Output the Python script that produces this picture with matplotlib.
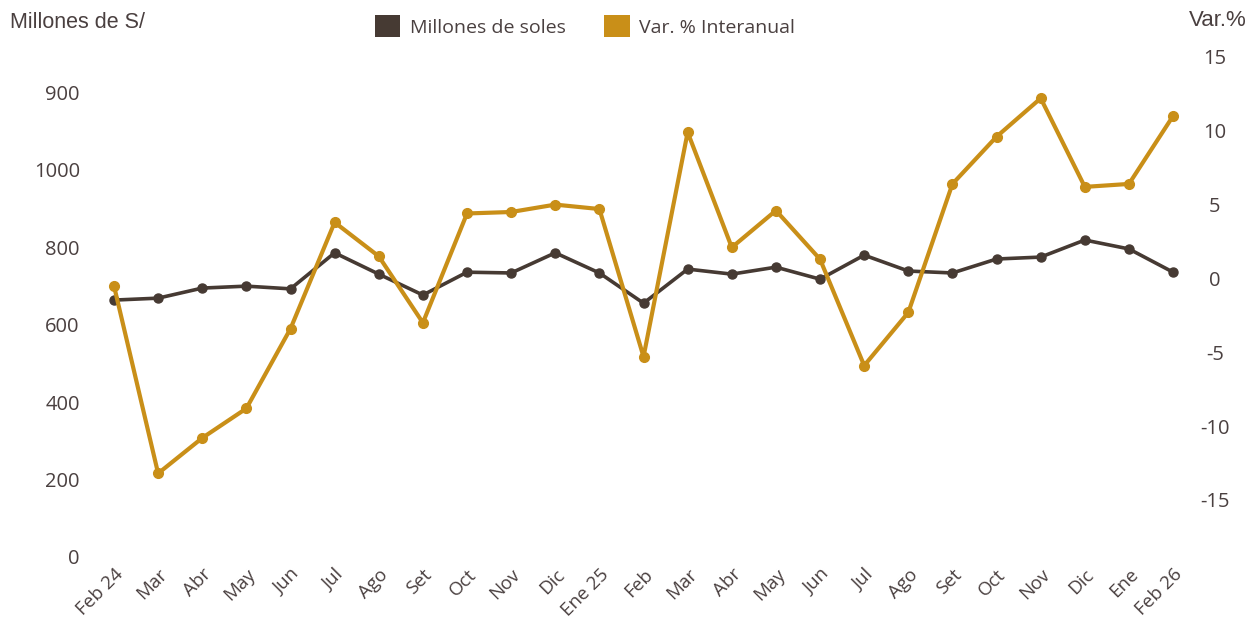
import matplotlib
matplotlib.use('Agg')
import matplotlib.pyplot as plt
from matplotlib.patches import Patch

months = ['Feb 24', 'Mar', 'Abr', 'May', 'Jun', 'Jul', 'Ago', 'Set', 'Oct', 'Nov', 'Dic', 'Ene 25',
          'Feb', 'Mar', 'Abr', 'May', 'Jun', 'Jul', 'Ago', 'Set', 'Oct', 'Nov', 'Dic', 'Ene', 'Feb 26']

# millones de soles (eje izquierdo)
millones = [663, 668, 694, 699, 692, 785, 730, 676, 735, 733, 785, 733,
            655, 743, 730, 748, 717, 779, 738, 733, 769, 774, 818, 795, 735]

# variacion % interanual (eje derecho)
var_pct = [-0.5, -13.2, -10.8, -8.8, -3.4, 3.8, 1.5, -3.0, 4.4, 4.5, 5.0, 4.7,
           -5.3, 9.9, 2.1, 4.6, 1.3, -5.9, -2.3, 6.4, 9.6, 12.2, 6.2, 6.4, 11.0]

left_ticks = [0, 200, 400, 600, 800, 1000, 1200]
left_labels = ['0', '200', '400', '600', '800', '1000', '900']  # as printed in the source chart
right_ticks = [-15, -10, -5, 0, 5, 10, 15]

c_black = '#463a33'
c_gold = '#c98f18'
c_text = '#4a4040'

W, H = 1257, 624
fig = plt.figure(figsize=(W / 100, H / 100), dpi=100)
ax = fig.add_axes([100 / W, (H - 557) / H, 1085 / W, (557 - 55) / H])
ax2 = ax.twinx()

x = list(range(len(months)))
ax.plot(x, millones, color=c_black, lw=2.6, marker='o', ms=6.5, zorder=3)
ax2.plot(x, var_pct, color=c_gold, lw=3, marker='o', ms=7, zorder=3)

ax.set_xlim(-0.317, 24.27)
ax.set_ylim(0, 1295.5)
ax2.set_ylim(-18.86, 15.13)

ax.set_yticks(left_ticks)
ax.set_yticklabels(left_labels)
ax2.set_yticks(right_ticks)
ax2.set_yticklabels([str(t) for t in right_ticks])

ax.set_xticks(x)
ax.set_xticklabels(months, rotation=45, ha='right', va='top', rotation_mode='anchor')

for a in (ax, ax2):
    for s in a.spines.values():
        s.set_visible(False)
    a.tick_params(length=0, colors=c_text)

for lab in ax.get_yticklabels():
    lab.set_fontfamily('Open Sans')
    lab.set_fontsize(14.5)
for lab in ax2.get_yticklabels():
    lab.set_fontfamily('Open Sans')
    lab.set_fontsize(14.5)
    lab.set_horizontalalignment('center')
for lab in ax.get_xticklabels():
    lab.set_fontfamily('Open Sans')
    lab.set_fontsize(13.5)

ax.tick_params(axis='y', pad=14.5)
ax2.tick_params(axis='y', pad=21.5)
ax.tick_params(axis='x', pad=6)

fig.text(10 / W, 1 - 23 / H, 'Millones de S/', family='Liberation Sans', fontsize=15.5,
         color=c_text, ha='left', va='center')
fig.text(1247 / W, 1 - 21 / H, 'Var.%', family='Liberation Sans', fontsize=16,
         color=c_text, ha='right', va='center')

handles = [Patch(facecolor=c_black), Patch(facecolor=c_gold)]
leg = fig.legend(handles, ['Millones de soles', 'Var. % Interanual'], loc='center',
                 bbox_to_anchor=(585 / W, 1 - 26 / H), ncol=2, frameon=False,
                 prop={'family': 'Open Sans', 'size': 14}, handlelength=1.3, handleheight=1.3,
                 handletextpad=0.5, columnspacing=2.0)
for t in leg.get_texts():
    t.set_color(c_text)

fig.savefig('out.png', dpi=100)
